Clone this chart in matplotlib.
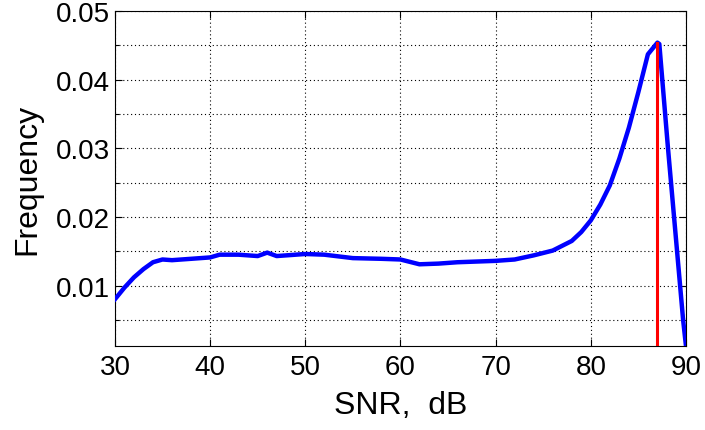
import numpy as np
import matplotlib
matplotlib.use("Agg")
import matplotlib.pyplot as plt

plt.rcParams['font.family'] = ['Liberation Sans', 'DejaVu Sans']

# SNR histogram
snr = [30, 31, 32, 33, 34, 35, 36, 38, 40, 41, 43, 45, 46, 47, 50, 52, 55,
       58, 60, 62, 64, 66, 70, 72, 74, 76, 78, 79, 80, 81, 82, 83, 84, 85,
       86, 87.0, 87.2, 88.1, 89.7, 90]
freq = [0.0080, 0.0097, 0.0112, 0.0124, 0.0134, 0.0138, 0.0137, 0.0139,
        0.0141, 0.0145, 0.0145, 0.0143, 0.0148, 0.0143, 0.0146, 0.0145,
        0.0140, 0.0139, 0.0138, 0.0131, 0.0132, 0.0134, 0.0136, 0.0138,
        0.0144, 0.0151, 0.0165, 0.0178, 0.0195, 0.0218, 0.0246, 0.0285,
        0.0330, 0.0382, 0.0437, 0.0454, 0.0452, 0.0302, 0.0050, 0.0012]
peak_snr = 87.0
peak_freq = 0.0454

fig = plt.figure(figsize=(7.05, 4.31), dpi=100)
ax = fig.add_axes([0.163, 0.195, 0.81, 0.777])

ax.plot(snr, freq, color='#0000ff', lw=3.2, solid_joinstyle='round', zorder=3)
ax.plot([peak_snr, peak_snr], [0, peak_freq], color='#ff0000', lw=2.2, zorder=4)

ax.set_xlim(30, 90)
ax.set_ylim(0.0012, 0.05)
ax.set_xticks([30, 40, 50, 60, 70, 80, 90])
ax.set_yticks([0.01, 0.02, 0.03, 0.04, 0.05])
ax.set_yticklabels(['0.01', '0.02', '0.03', '0.04', '0.05'])
ax.set_yticks([0.005, 0.015, 0.025, 0.035, 0.045], minor=True)
ax.tick_params(which='both', direction='in', labelsize=20, top=True, right=True,
               length=5, width=0.8)
ax.tick_params(which='minor', length=3)
ax.tick_params(axis='x', pad=6)
ax.grid(True, which='both', color='black', linestyle=(0, (1, 2.5)), lw=0.8)

ax.set_xlabel('SNR,  dB', fontsize=23, labelpad=7)
ax.set_ylabel('Frequency', fontsize=23, labelpad=10)
for s in ax.spines.values():
    s.set_linewidth(0.8)

fig.savefig('out.png', dpi=100)
